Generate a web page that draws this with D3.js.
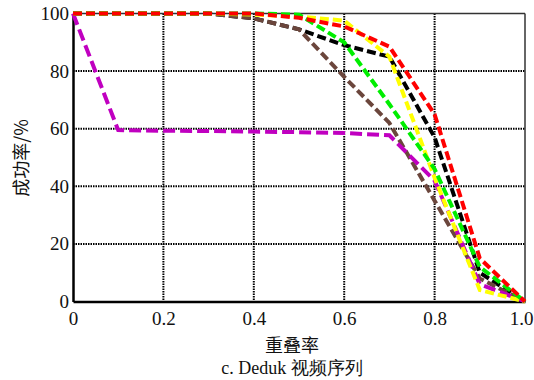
<!DOCTYPE html>
<html>
<head>
<meta charset="utf-8">
<script src="https://cdn.jsdelivr.net/npm/d3@7"></script>
<style>
  html, body { margin: 0; padding: 0; background: #fff; }
  svg { display: block; }
  text { font-family: "Liberation Serif", "Times New Roman", serif; fill: #111; }
  .cjk { font-family: "Noto Sans CJK SC", "Liberation Serif", serif; }
</style>
</head>
<body>
<svg id="chart" width="534" height="380"></svg>
<script>
// Overlap thresholds (x) and success rates (%) for each tracker
const overlap = [0, 0.1, 0.2, 0.3, 0.4, 0.5, 0.6, 0.7, 0.8, 0.9, 1.0];
const blackSeries   = [100, 100, 100, 100, 98.3, 94.5, 89, 85, 57, 10, 0];
const brownSeries   = [100, 100, 100, 100, 98.3, 94.5, 78, 62, 35, 8, 0];
const magentaSeries = [100, 59.5, 59.3, 59.2, 59, 58.8, 58.5, 57.7, 42, 6, 0];
const yellowSeries  = [100, 100, 100, 100, 99.6, 99, 97.5, 85, 43, 4, 0];
const greenSeries   = [100, 100, 100, 100, 100, 99.6, 90, 68.5, 46, 12, 0];
const redSeries     = [100, 100, 100, 100, 100, 98.5, 95.5, 88.5, 65, 15, 0];

const seriesColors = ["#000000", "#6b463c", "#c000c0", "#ffff00", "#00ee00", "#ff0000"];
const seriesList = [blackSeries, brownSeries, magentaSeries, yellowSeries, greenSeries, redSeries];

const xTicks = [0, 0.2, 0.4, 0.6, 0.8, 1.0];
const xTickLabels = ["0", "0.2", "0.4", "0.6", "0.8", "1.0"];
const yTicks = [0, 20, 40, 60, 80, 100];

const xTitle = "重叠率";
const yTitle = "成功率/%";
const caption = "c. Deduk 视频序列";

const svg = d3.select("#chart");
const plotLeft = 73, plotRight = 525, plotTop = 13.5, plotBottom = 301.5;

const x = d3.scaleLinear().domain([0, 1]).range([plotLeft, plotRight]);
const y = d3.scaleLinear().domain([0, 100]).range([plotBottom, plotTop]);

// dotted grid
const grid = svg.append("g");
grid.selectAll("line.v").data(xTicks.filter(d => d > 0 && d < 1)).enter().append("line")
  .attr("x1", d => x(d)).attr("x2", d => x(d)).attr("y1", plotTop).attr("y2", plotBottom)
  .attr("stroke", "#000").attr("stroke-width", 2).attr("stroke-dasharray", "1.5,1");
grid.selectAll("line.h").data(yTicks.filter(d => d > 0 && d < 100)).enter().append("line")
  .attr("x1", plotLeft).attr("x2", plotRight).attr("y1", d => y(d)).attr("y2", d => y(d))
  .attr("stroke", "#000").attr("stroke-width", 2).attr("stroke-dasharray", "1.5,1");

// frame: thin top/right, heavy left/bottom
svg.append("line").attr("x1", plotLeft).attr("x2", plotRight).attr("y1", plotTop).attr("y2", plotTop)
  .attr("stroke", "#333").attr("stroke-width", 1.5);
svg.append("line").attr("x1", plotRight).attr("x2", plotRight).attr("y1", plotTop).attr("y2", plotBottom)
  .attr("stroke", "#333").attr("stroke-width", 1.5);

// axes
const xAxis = d3.axisBottom(x).tickValues(xTicks).tickFormat((d, i) => xTickLabels[i]).tickSize(0).tickPadding(10);
const yAxis = d3.axisLeft(y).tickValues(yTicks).tickFormat(d3.format("d")).tickSize(0).tickPadding(4);

const gx = svg.append("g").attr("transform", `translate(0,${plotBottom})`).call(xAxis);
const gy = svg.append("g").attr("transform", `translate(${plotLeft},0)`).call(yAxis);
[gx, gy].forEach(g => {
  g.attr("font-family", null);
  g.select(".domain").attr("stroke", "#000").attr("stroke-width", 2.5);
  g.selectAll("text").style("font-family", "'Liberation Serif', 'Times New Roman', serif").style("font-size", "19px").attr("fill", "#111");
});
// keep the last x label inside the page edge
gx.selectAll(".tick").filter(d => d === 1).select("text").attr("text-anchor", "end").attr("dx", 8);

// series lines
const line = d3.line().x((d, i) => x(overlap[i])).y(d => y(d));
const lines = svg.append("g");
seriesList.forEach((s, k) => {
  lines.append("path").datum(s)
    .attr("d", line)
    .attr("fill", "none")
    .attr("stroke", seriesColors[k])
    .attr("stroke-width", 4)
    .attr("stroke-dasharray", seriesColors[k] === "#c000c0" ? "12,5" : "9,4")
    .attr("stroke-linejoin", "miter");
});

// titles
svg.append("text").attr("class", "cjk")
  .attr("x", 292).attr("y", 352).attr("text-anchor", "middle")
  .style("font-size", "18px").text(xTitle);
svg.append("text").attr("class", "cjk")
  .attr("transform", "translate(28,158) rotate(-90)").attr("text-anchor", "middle")
  .style("font-size", "18px").text(yTitle);
svg.append("text")
  .attr("x", 292).attr("y", 374).attr("text-anchor", "middle")
  .style("font-size", "18px").text(caption);
</script>
</body>
</html>
